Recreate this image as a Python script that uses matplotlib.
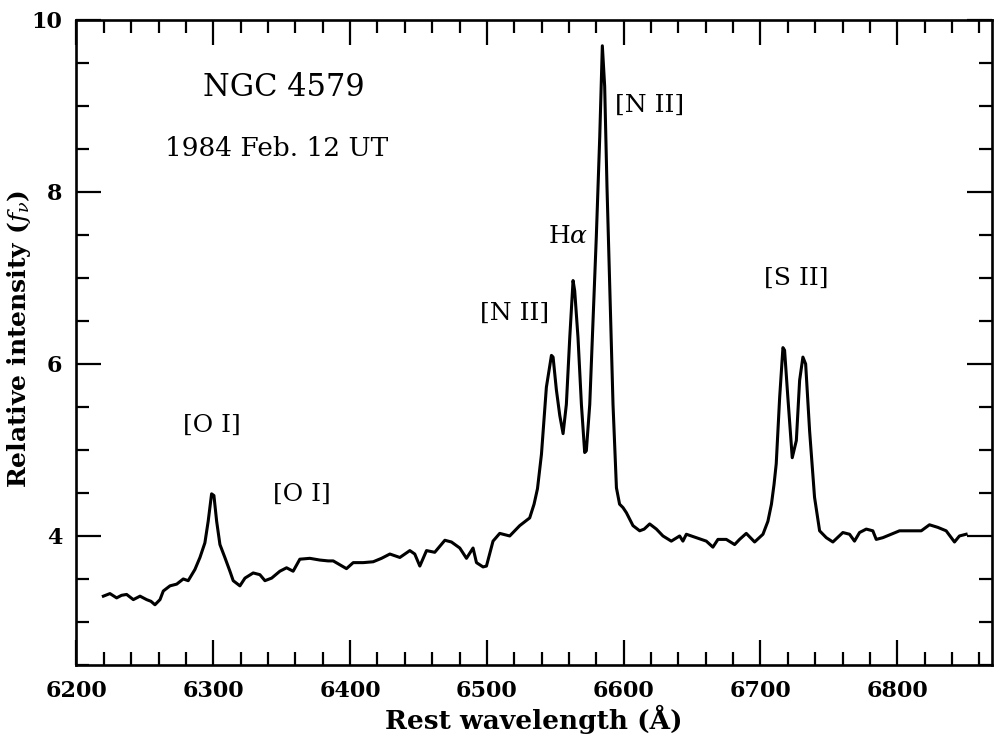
import matplotlib
matplotlib.use("Agg")
import matplotlib.pyplot as plt
from matplotlib.ticker import MultipleLocator

# Spectrum (rest wavelength in Angstrom, relative intensity f_nu)
wavelength = [
    6219.7, 6224.5, 6229.4, 6233.0, 6236.7, 6241.6, 6246.5, 6251.3, 6254.5, 6257.4,
    6261.1, 6263.5, 6268.4, 6273.3, 6278.1, 6281.7, 6286.6, 6290.3, 6293.9, 6296.3,
    6298.8, 6300.5, 6302.5, 6304.9, 6308.5, 6312.2, 6314.6, 6319.5, 6323.2, 6329.2,
    6334.1, 6337.8, 6342.7, 6348.7, 6353.6, 6358.4, 6363.3, 6370.6, 6377.9, 6384.0,
    6387.7, 6392.0, 6397.4, 6402.3, 6409.6, 6416.9, 6423.0, 6429.1, 6436.4, 6443.7,
    6447.3, 6451.0, 6455.9, 6461.9, 6469.3, 6474.1, 6480.2, 6485.1, 6489.9, 6492.4,
    6497.2, 6499.7, 6504.5, 6509.4, 6516.7, 6524.0, 6531.3, 6534.5, 6537.0, 6539.9,
    6543.5, 6547.2, 6548.4, 6550.8, 6553.3, 6555.7, 6558.1, 6560.6, 6563.0, 6564.2,
    6566.6, 6569.1, 6571.5, 6572.7, 6575.2, 6577.6, 6580.0, 6582.5, 6584.4, 6586.1,
    6587.8, 6589.8, 6592.2, 6594.7, 6597.0, 6599.5, 6602.0, 6606.8, 6611.7, 6615.0,
    6619.0, 6623.9, 6628.7, 6634.8, 6640.9, 6643.3, 6645.8, 6653.1, 6660.4, 6665.2,
    6668.9, 6675.0, 6681.1, 6684.7, 6689.6, 6695.7, 6701.8, 6705.4, 6708.0, 6709.9,
    6711.5, 6714.0, 6716.4, 6717.6, 6720.0, 6723.2, 6726.2, 6728.6, 6731.0, 6733.0,
    6735.9, 6739.5, 6743.2, 6748.1, 6752.9, 6760.2, 6765.1, 6768.7, 6772.4, 6777.3,
    6782.1, 6784.6, 6789.4, 6795.5, 6801.6, 6807.7, 6812.6, 6817.5, 6823.5, 6829.6,
    6835.7, 6841.8, 6845.4, 6850.3,
]
intensity = [
    3.30, 3.33, 3.28, 3.31, 3.32, 3.26, 3.30, 3.26, 3.24, 3.20,
    3.26, 3.36, 3.42, 3.44, 3.50, 3.48, 3.61, 3.75, 3.92, 4.17,
    4.49, 4.47, 4.17, 3.90, 3.75, 3.59, 3.48, 3.42, 3.51, 3.57,
    3.55, 3.48, 3.51, 3.59, 3.63, 3.59, 3.73, 3.74, 3.72, 3.71,
    3.71, 3.67, 3.62, 3.69, 3.69, 3.70, 3.74, 3.79, 3.75, 3.83,
    3.79, 3.65, 3.83, 3.81, 3.95, 3.93, 3.86, 3.74, 3.86, 3.69,
    3.64, 3.65, 3.94, 4.03, 4.00, 4.12, 4.21, 4.37, 4.55, 4.95,
    5.73, 6.10, 6.08, 5.70, 5.40, 5.19, 5.53, 6.31, 6.97, 6.85,
    6.31, 5.53, 4.97, 4.99, 5.53, 6.51, 7.48, 8.64, 9.70, 9.23,
    8.06, 6.89, 5.53, 4.56, 4.37, 4.33, 4.27, 4.12, 4.06, 4.08,
    4.14, 4.08, 4.00, 3.94, 4.00, 3.94, 4.02, 3.98, 3.94, 3.87,
    3.96, 3.96, 3.90, 3.96, 4.03, 3.93, 4.02, 4.17, 4.37, 4.60,
    4.84, 5.61, 6.19, 6.16, 5.61, 4.91, 5.11, 5.81, 6.08, 6.00,
    5.22, 4.45, 4.06, 3.98, 3.93, 4.04, 4.02, 3.94, 4.04, 4.08,
    4.06, 3.96, 3.98, 4.02, 4.06, 4.06, 4.06, 4.06, 4.13, 4.10,
    4.06, 3.93, 4.00, 4.02,
]

# Line identifications (label, wavelength position, intensity position)
line_labels = ["[O I]", "[O I]", "[N II]", "H$\\alpha$", "[N II]", "[S II]"]
label_x = [6299.0, 6364.8, 6520.4, 6559.7, 6619.0, 6726.4]
label_y = [5.29, 4.49, 6.59, 7.48, 9.01, 7.00]

title_text = "NGC 4579"
date_text = "1984 Feb. 12 UT"

plt.rcParams['font.family'] = ['DejaVu Serif']
plt.rcParams['mathtext.fontset'] = 'dejavuserif'

fig = plt.figure(figsize=(9.95, 7.4), dpi=100)
ax = fig.add_axes([0.0768, 0.1014, 0.9199, 0.8716])

ax.plot(wavelength, intensity, color='black', lw=2.2, solid_joinstyle='round')

ax.set_xlim(6200, 6869)
ax.set_ylim(2.5, 10)
ax.xaxis.set_major_locator(MultipleLocator(100))
ax.xaxis.set_minor_locator(MultipleLocator(20))
ax.yaxis.set_major_locator(MultipleLocator(2))
ax.yaxis.set_minor_locator(MultipleLocator(0.5))

ax.tick_params(which='both', direction='in', top=True, right=True, width=1.6)
ax.tick_params(which='major', length=18)
ax.tick_params(which='minor', length=9.5)
ax.tick_params(axis='x', which='major', pad=11, labelsize=16)
ax.tick_params(axis='y', which='major', pad=10, labelsize=16)
for lab in ax.get_xticklabels() + ax.get_yticklabels():
    lab.set_fontweight('bold')
for sp in ax.spines.values():
    sp.set_linewidth(1.9)

ax.set_xlabel("Rest wavelength (Å)", fontsize=19, fontweight='bold', labelpad=2)
ax.set_ylabel("Relative intensity ($f_\\nu$)", fontsize=18, fontweight='bold')
ax.yaxis.set_label_coords(-0.047, 0.505)

ax.text(6292.5, 9.21, title_text, fontsize=22, ha='left', va='center')
ax.text(6264.5, 8.50, date_text, fontsize=19, ha='left', va='center')

for t, x, y in zip(line_labels, label_x, label_y):
    ax.text(x, y, t, fontsize=18, ha='center', va='center')

fig.savefig("out.png", dpi=100)
